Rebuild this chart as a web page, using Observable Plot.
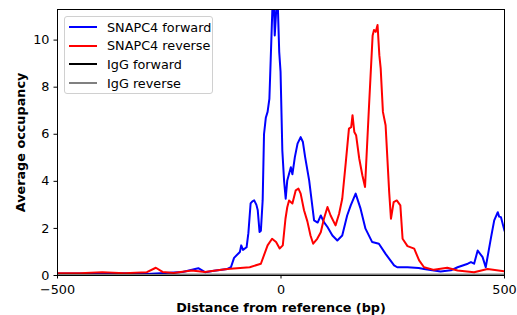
<!DOCTYPE html>
<html>
<head>
<meta charset="utf-8">
<script src="https://cdn.jsdelivr.net/npm/d3@7"></script>
<script src="https://cdn.jsdelivr.net/npm/@observablehq/plot@0.6"></script>
<style>
  body { margin: 0; background: #fff; }
  #wrap { position: relative; width: 517px; height: 315px; font-family: "DejaVu Sans", sans-serif; }
  #legend { position: absolute; left: 64px; top: 16px; width: 149px; height: 78px; border: 1px solid #d0d0d0; border-radius: 3px; background: rgba(255,255,255,0.85); box-sizing: border-box; }
  .row { position: absolute; left: 0; height: 18px; display: flex; align-items: center; font-size: 12.8px; color: #000; white-space: nowrap; }
  .sw { width: 28px; height: 2px; margin-left: 4px; margin-right: 10px; }
</style>
</head>
<body>
<div id="wrap"><div id="chart"></div><div id="legend"></div></div>
<script>
const seriesNames = ["SNAPC4 forward", "SNAPC4 reverse", "IgG forward", "IgG reverse"];
const seriesColors = ["#0000ff", "#ff0000", "#000000", "#808080"];

const fwdX = [-500,-450,-400,-350,-300,-250,-220,-185,-170,-150,-120,-112,-105,-92,-89,-85,-77,-73,-68,-64,-60,-55,-52,-48,-45,-41,-38,-34,-30,-26,-23,-19,-16,-14,-10,-7,-4,-1,3,7,10.5,14,22,25.5,31,37,44,49,54,63,74,82,89,96,104,115,126,137,148,156,167,178,189,204,219,234,253,260,283,308,320,357,380,395,418,425,432,440,451,458,470,477,485,488,492,500];
const fwdY = [0.08,0.08,0.07,0.1,0.06,0.12,0.15,0.31,0.14,0.2,0.28,0.35,0.75,1.0,1.28,1.09,1.2,1.8,3.06,3.15,3.19,3.0,2.77,1.85,1.9,3.2,6.0,6.7,6.95,7.5,9.2,11.5,11.5,10.2,11.5,11.4,9.5,8.65,5.3,4.0,3.26,4.04,4.6,4.3,5.03,5.6,5.88,5.67,5.03,4.04,2.34,2.25,2.55,2.27,2.06,1.7,1.49,1.7,2.55,2.98,3.48,2.84,1.99,1.42,1.35,0.92,0.43,0.35,0.35,0.32,0.28,0.17,0.22,0.35,0.5,0.57,0.5,1.06,0.78,0.35,1.63,2.34,2.69,2.5,2.48,1.9];

const revX = [-500,-450,-400,-350,-300,-280,-265,-240,-200,-170,-150,-120,-70,-45,-30,-20,-11,-3,4,10,14,18,25.5,33,39,44,51.5,59,66,72,81,89,96,104,111,122,130,137,145,152,157,160,164,168,175,182,188,197,205,208,212,216,220,223,228,234,242,246,252,259,267,272,283,298,309,320,342,372,395,432,462,500];
const revY = [0.1,0.1,0.14,0.1,0.14,0.33,0.15,0.11,0.21,0.15,0.2,0.28,0.35,0.5,1.28,1.56,1.42,1.15,1.28,2.41,2.9,3.19,3.06,3.62,3.69,3.48,2.77,2.3,1.7,1.35,1.56,1.84,2.41,2.91,2.55,2.13,2.62,3.26,4.82,6.24,6.3,6.81,6.1,5.96,4.97,4.26,3.76,7.23,10.2,10.43,10.35,10.64,9.36,8.8,6.95,6.38,3.55,2.41,3.12,3.19,2.98,1.56,1.25,1.14,0.64,0.35,0.24,0.33,0.21,0.14,0.28,0.18];

const iggX = [-500,-250,0,250,500];
const iggFwdY = [0.03,0.03,0.03,0.03,0.03];
const iggRevY = [0.02,0.02,0.02,0.02,0.02];

const xTicks = [-500, 0, 500];
const yTicks = [0, 2, 4, 6, 8, 10];

const rows = [];
fwdX.forEach((x, i) => rows.push({s: seriesNames[0], x, y: fwdY[i]}));
revX.forEach((x, i) => rows.push({s: seriesNames[1], x, y: revY[i]}));
iggX.forEach((x, i) => rows.push({s: seriesNames[2], x, y: iggFwdY[i]}));
iggX.forEach((x, i) => rows.push({s: seriesNames[3], x, y: iggRevY[i]}));

const fmt = d => d < 0 ? "\u2212" + Math.abs(d) : String(d);

const chart = Plot.plot({
  width: 517,
  height: 315,
  marginLeft: 57,
  marginRight: 13,
  marginTop: 9,
  marginBottom: 40,
  style: {fontFamily: "DejaVu Sans", fontSize: "12.8px", color: "#000", background: "#fff"},
  x: {domain: [-500, 500]},
  y: {domain: [0, 11.3]},
  color: {domain: seriesNames, range: seriesColors},
  marks: [
    Plot.line(rows, {x: "x", y: "y", z: "s", stroke: "s", strokeWidth: 2, curve: "linear", clip: true}),
    Plot.frame({stroke: "#000", strokeWidth: 1}),
    Plot.axisX({ticks: xTicks, tickFormat: fmt, tickSize: 3.5, tickPadding: 6, fontSize: 12.8,
      label: "Distance from reference (bp)", labelAnchor: "center", labelArrow: "none", labelOffset: 36}),
    Plot.axisY({ticks: yTicks, tickFormat: fmt, tickSize: 3.5, tickPadding: 4.5, fontSize: 12.8,
      label: "Average occupancy", labelAnchor: "center", labelArrow: "none", labelOffset: 42})
  ]
});
document.getElementById("chart").appendChild(chart);
d3.select(chart).selectAll("[aria-label='x-axis label'] text, [aria-label='y-axis label'] text")
  .style("font-weight", "bold").style("font-size", "12.8px");

const legend = document.getElementById("legend");
seriesNames.forEach((n, i) => {
  const r = document.createElement("div");
  r.className = "row";
  r.style.top = (1 + i * 18.7) + "px";
  r.innerHTML = `<span class="sw" style="background:${seriesColors[i]}"></span><span>${n}</span>`;
  legend.appendChild(r);
});
</script>
</body>
</html>
